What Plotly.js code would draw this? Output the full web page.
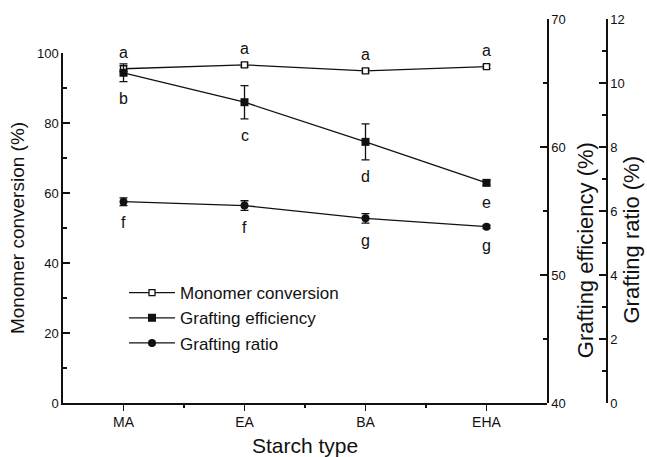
<!DOCTYPE html>
<html>
<head>
<meta charset="utf-8">
<script src="https://cdn.plot.ly/plotly-3.0.1.min.js"></script>
<style>html,body{margin:0;padding:0;background:#fff;}#chart{width:647px;height:457px;}</style>
</head>
<body>
<div id="chart"></div>
<script>
// ---- data ----
const categories = ['MA', 'EA', 'BA', 'EHA'];
const monomerConversion = [95.5, 96.6, 94.9, 96.1];
const monomerErr = [0.8, 0.6, 0.6, 0.5];
const graftingEfficiency = [65.8, 63.5, 60.4, 57.2];
const efficiencyErr = [0.7, 1.3, 1.4, 0.2];
const graftingRatio = [6.29, 6.17, 5.77, 5.51];
const ratioErr = [0.12, 0.15, 0.15, 0.05];
const monomerLetters = ['a', 'a', 'a', 'a'];
const efficiencyLetters = ['b', 'c', 'd', 'e'];
const ratioLetters = ['f', 'f', 'g', 'g'];
const leftTicks = [0, 20, 40, 60, 80, 100];
const effTicks = [40, 50, 60, 70];
const ratioTicks = [0, 2, 4, 6, 8, 10, 12];

const xIdx = categories.map((c, i) => i);
const FONT = 'Arial, "Liberation Sans", Helvetica, sans-serif';
const INK = '#111';

const errStyle = (arr) => ({type: 'data', array: arr, visible: true, color: INK, thickness: 1.3, width: 4});

const traces = [
  {
    x: xIdx, y: monomerConversion, name: 'Monomer conversion', type: 'scatter', mode: 'lines+markers',
    xaxis: 'x', yaxis: 'y',
    line: {color: INK, width: 1.3},
    marker: {symbol: 'square', size: 6, color: '#fff', line: {color: INK, width: 1.3}},
    error_y: errStyle(monomerErr)
  },
  {
    x: xIdx, y: graftingEfficiency, name: 'Grafting efficiency', type: 'scatter', mode: 'lines+markers',
    xaxis: 'x', yaxis: 'y2',
    line: {color: INK, width: 1.3},
    marker: {symbol: 'square', size: 8, color: INK},
    error_y: errStyle(efficiencyErr)
  },
  {
    x: xIdx, y: graftingRatio, name: 'Grafting ratio', type: 'scatter', mode: 'lines+markers',
    xaxis: 'x', yaxis: 'y3',
    line: {color: INK, width: 1.3},
    marker: {symbol: 'circle', size: 8, color: INK},
    error_y: errStyle(ratioErr)
  }
];

const letterFont = {family: FONT, size: 16, color: INK};
const annotations = [];
xIdx.forEach((xi, i) => {
  annotations.push({x: xi, y: monomerConversion[i], xref: 'x', yref: 'y', text: monomerLetters[i],
    showarrow: false, yshift: 16, font: letterFont});
  annotations.push({x: xi, y: graftingEfficiency[i] - efficiencyErr[i], xref: 'x', yref: 'y2', text: efficiencyLetters[i],
    showarrow: false, yshift: -17, font: letterFont});
  annotations.push({x: xi, y: graftingRatio[i] - ratioErr[i], xref: 'x', yref: 'y3', text: ratioLetters[i],
    showarrow: false, yshift: -17, font: letterFont});
});
annotations.push({text: 'Grafting efficiency (%)', xref: 'paper', yref: 'paper', x: 0.9255, y: 0.398,
  textangle: -90, showarrow: false, xanchor: 'center', yanchor: 'middle', font: {family: FONT, size: 22, color: INK}});
annotations.push({text: 'Grafting ratio (%)', xref: 'paper', yref: 'paper', x: (646 - 63) / 564, y: 0.4245,
  textangle: -90, showarrow: false, xanchor: 'right', yanchor: 'middle', font: {family: FONT, size: 22, color: INK}});

const xEnd = 484 / 564;
const axisCommon = {
  showgrid: false, zeroline: false, showline: true, linecolor: INK, linewidth: 1.6,
  tickcolor: INK, tickwidth: 1.6, tickfont: {family: FONT, size: 13, color: INK}
};

const layout = {
  width: 647, height: 457,
  margin: {l: 63, r: 20, t: 19, b: 54, pad: 0},
  paper_bgcolor: '#fff', plot_bgcolor: 'rgba(0,0,0,0)',
  font: {family: FONT, color: INK},
  showlegend: true,
  legend: {x: (124 - 63) / 564, y: 0.333, xanchor: 'left', yanchor: 'top', bgcolor: 'rgba(0,0,0,0)',
    font: {family: FONT, size: 17, color: INK}, tracegroupgap: 0, itemwidth: 46},
  xaxis: Object.assign({}, axisCommon, {
    domain: [0, xEnd], range: [-0.5, 3.5], anchor: 'y',
    tickmode: 'array', tickvals: xIdx, ticktext: categories,
    ticks: 'outside', ticklen: 6, tickfont: {family: FONT, size: 14, color: INK},
    minor: {tickmode: 'array', tickvals: [0.5, 1.5, 2.5], ticks: 'outside', ticklen: 3, tickwidth: 1.6, tickcolor: INK},
    title: {text: 'Starch type', font: {family: FONT, size: 21, color: INK}, standoff: 11}
  }),
  yaxis: Object.assign({}, axisCommon, {
    domain: [0, 350 / 384], range: [0, 100], anchor: 'x', side: 'left',
    tickmode: 'array', tickvals: leftTicks,
    ticks: 'inside', ticklen: 7,
    minor: {tick0: 0, dtick: 10, ticks: 'inside', ticklen: 4, tickwidth: 1.6, tickcolor: INK},
    title: {text: 'Monomer conversion (%)', font: {family: FONT, size: 19, color: INK}, standoff: 7}
  }),
  yaxis2: Object.assign({}, axisCommon, {
    domain: [0, 1], range: [40, 70], anchor: 'free', position: xEnd, side: 'right',
    tickmode: 'array', tickvals: effTicks,
    ticks: 'inside', ticklen: 7,
    minor: {tick0: 40, dtick: 5, ticks: 'inside', ticklen: 4, tickwidth: 1.6, tickcolor: INK}
  }),
  yaxis3: Object.assign({}, axisCommon, {
    domain: [0, 1], range: [0, 12], anchor: 'free', position: (606 - 63) / 564, side: 'right',
    tickmode: 'array', tickvals: ratioTicks,
    ticks: 'inside', ticklen: 7,
    minor: {tick0: 0, dtick: 1, ticks: 'inside', ticklen: 4, tickwidth: 1.6, tickcolor: INK}
  }),
  annotations: annotations
};

Plotly.newPlot('chart', traces, layout, {staticPlot: true, displayModeBar: false});
</script>
</body>
</html>
